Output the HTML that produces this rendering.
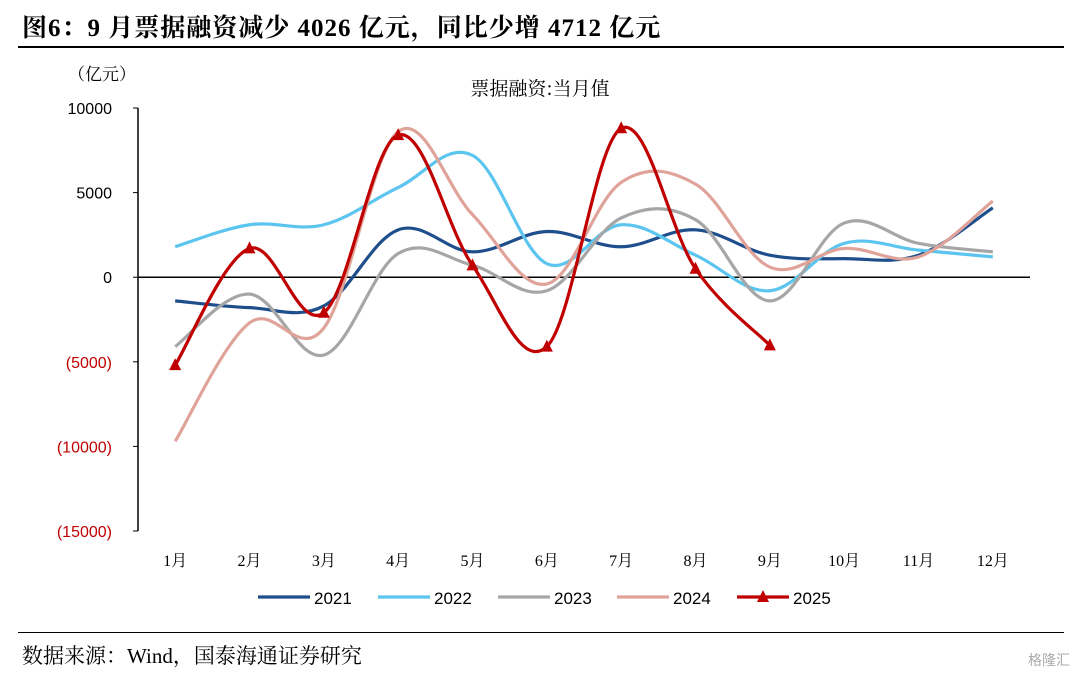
<!DOCTYPE html>
<html><head><meta charset="utf-8">
<style>
body{margin:0;background:#fff;width:1080px;height:676px;overflow:hidden;position:relative;font-family:"Liberation Sans","Noto Sans CJK SC",sans-serif}
#title{position:absolute;left:22px;top:8px;font:bold 25px "Liberation Serif","Noto Serif CJK SC",serif;color:#000;letter-spacing:1px}
#src{position:absolute;left:22px;top:640px;font:21px "Liberation Serif","Noto Serif CJK SC",serif;color:#000}
.rule{position:absolute;left:18px;width:1046px;height:2px;background:#000}
#wm{position:absolute;right:10px;top:650px;font-size:14px;color:#aaa}
</style></head><body>
<div id="title">图6：9 月票据融资减少 4026 亿元，同比少增 4712 亿元</div>
<div class="rule" style="top:46px"></div>
<div class="rule" style="top:632px;height:1px"></div>
<div id="src">数据来源：Wind，国泰海通证券研究</div>
<div id="wm">格隆汇</div>
<svg id="chart" width="1080" height="676" style="position:absolute;left:0;top:0"></svg>
<script>
const categories=["1月","2月","3月","4月","5月","6月","7月","8月","9月","10月","11月","12月"];
const s2021=[-1400,-1800,-1700,2800,1500,2700,1800,2800,1300,1100,1300,4100];
const s2022=[1800,3100,3100,5300,7200,800,3100,1300,-800,2000,1600,1200];
const s2023=[-4100,-1000,-4600,1400,700,-800,3500,3400,-1400,3200,2000,1500];
const s2024=[-9700,-2700,-3000,8600,3700,-400,5600,5500,600,1700,1200,4500];
const s2025=[-5200,1700,-2100,8400,700,-4100,8800,500,-4026];
const seriesNames=["2021","2022","2023","2024","2025"];
const colors=["#1f4e8c","#5bc5f0","#a6a6a6","#e0a39a","#c00000"];
const yTicks=[10000,5000,0,-5000,-10000,-15000];
const yLabels=["10000","5000","0","(5000)","(10000)","(15000)"];
const NS="http://www.w3.org/2000/svg";
const svg=document.getElementById('chart');
const x0=138,x1=1030,yTop=108,yBot=531;
const X=i=>x0+(x1-x0)/12*(i+0.5);
const Y=v=>yTop+(10000-v)/25000*(yBot-yTop);
function mk(t,a){const e=document.createElementNS(NS,t);for(const k in a)e.setAttribute(k,a[k]);svg.appendChild(e);return e;}
let ax=mk('line',{x1:x0,y1:yTop,x2:x0,y2:yBot,stroke:'#000','stroke-width':1.5});

let zx=mk('line',{x1:x0,y1:Y(0),x2:x1,y2:Y(0),stroke:'#000','stroke-width':1.5});

yTicks.forEach((v,i)=>{const t=mk('text',{x:x0-26,y:Y(v)+6,'text-anchor':'end','font-size':16,fill:v<0?'#c00000':'#000','font-family':'Liberation Sans, sans-serif'});t.textContent=yLabels[i];

mk('line',{x1:x0-5,y1:Y(v),x2:x0,y2:Y(v),stroke:'#000'});});
categories.forEach((c,i)=>{const t=mk('text',{x:X(i),y:566,'text-anchor':'middle','font-size':16,fill:'#000','font-family':'Liberation Serif, Noto Serif CJK SC, serif'});t.textContent=c;
});
let u=mk('text',{x:68,y:80,'font-size':17,fill:'#000','font-family':'Noto Serif CJK SC, serif'});u.textContent='（亿元）';

let st=mk('text',{x:540,y:95,'text-anchor':'middle','font-size':19,fill:'#000','font-family':'Noto Serif CJK SC, serif'});st.textContent='票据融资:当月值';

function smooth(vals){const p=vals.map((v,i)=>[X(i),Y(v)]);let d='M'+p[0][0]+','+p[0][1];const k=0.35;
for(let i=0;i<p.length-1;i++){const a=p[i-1]||p[i],b=p[i],c=p[i+1],e=p[i+2]||c;
d+=` C${b[0]+(c[0]-a[0])*k/2*1},${b[1]+(c[1]-a[1])*k/2*1} ${c[0]-(e[0]-b[0])*k/2},${c[1]-(e[1]-b[1])*k/2} ${c[0]},${c[1]}`;}return d;}
const all=[s2021,s2022,s2023,s2024,s2025];
all.forEach((s,j)=>{const p=mk('path',{d:smooth(s),fill:'none',stroke:colors[j],'stroke-width':3.2});
});
s2025.forEach((v,i)=>{const x=X(i),y=Y(v);const m=mk('polygon',{points:`${x},${y-7} ${x-6},${y+5} ${x+6},${y+5}`,fill:'#c00000'});
});
const lx=[258,378,498,617,737];
seriesNames.forEach((n,j)=>{const l=mk('line',{x1:lx[j],y1:597,x2:lx[j]+52,y2:597,stroke:colors[j],'stroke-width':3.2});

if(j==4){const m=mk('polygon',{points:`${lx[j]+26},590 ${lx[j]+20},602 ${lx[j]+32},602`,fill:colors[j]});}
const t=mk('text',{x:lx[j]+56,y:604,'font-size':17,fill:'#000','font-family':'Liberation Sans, sans-serif'});t.textContent=n;
});
</script>
</body></html>
